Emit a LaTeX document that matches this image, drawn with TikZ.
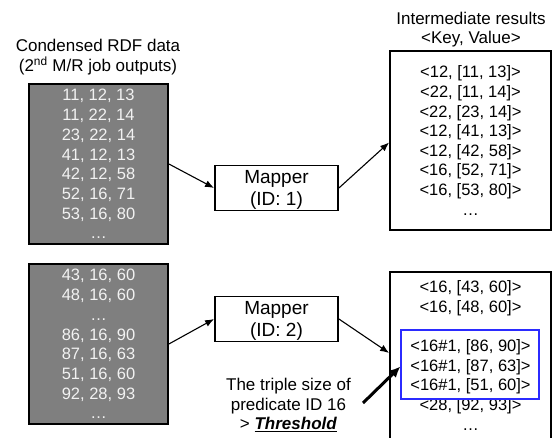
\documentclass[tikz,border=0pt]{standalone}
\usepackage{fontspec}
\setmainfont{Liberation Sans}
\usetikzlibrary{arrows.meta}
\definecolor{panelgray}{HTML}{7F7F7F}
\definecolor{rowlight}{HTML}{F2F2F2}
\definecolor{hotblue}{HTML}{2B2BFF}
\newcommand\rowsize{\fontsize{16.5}{19.6}\selectfont}
\newcommand\mapsize{\fontsize{19}{22}\selectfont}
\newcommand\titlesize{\fontsize{17}{19.6}\selectfont}

\begin{document}
\begin{tikzpicture}[x=1pt,y=-1pt,
  frame/.style={draw=black,line width=1.8pt,inner sep=0pt},
  datablock/.style={frame,fill=panelgray,minimum width=139pt,minimum height=160pt},
  mapbox/.style={frame,fill=white,minimum width=123pt,minimum height=45pt},
  outbox/.style={frame,minimum width=161pt},
  lightrow/.style={anchor=base,inner sep=0pt,text=rowlight,font=\rowsize},
  darkrow/.style={anchor=base,inner sep=0pt,font=\rowsize},
  titletext/.style={anchor=base,inner sep=0pt,font=\titlesize},
  maplabel/.style={anchor=base,inner sep=0pt,font=\mapsize},
  flow/.style={line width=1.1pt,-{Latex[length=9pt,width=7pt]}},
  bigflow/.style={line width=3pt,-{Latex[length=11pt,width=10pt]}},
  hotbox/.style={draw=hotblue,line width=1.2pt,fill=white,minimum width=138pt,minimum height=69pt,inner sep=0pt}]

\useasboundingbox[fill=white] (0,0) rectangle (552,438);

% ---- input data blocks ----
\node[titletext] (t1) at (98,52) {Condensed RDF data};
\node[titletext] (t2) at (98,71.5) {(2\textsuperscript{nd} M/R job outputs)};

\node[datablock] (src1) at (98.5,164) {};
\foreach \t [count=\i from 0] in {{11, 12, 13},{11, 22, 14},{23, 22, 14},{41, 12, 13},{42, 12, 58},{52, 16, 71},{53, 16, 80},{…}}
  \node[lightrow] (a-\i) at (98.5,101+\i*19.7) {\t};

\node[datablock] (src2) at (98.5,344) {};
\foreach \t [count=\i from 0] in {{43, 16, 60},{48, 16, 60},{…},{86, 16, 90},{87, 16, 63},{51, 16, 60},{92, 28, 93},{…}}
  \node[lightrow] (b-\i) at (98.5,281+\i*19.7) {\t};

% ---- mappers ----
\node[mapbox] (map1) at (276.5,188) {};
\node[maplabel] (m1a) at (276.5,184) {Mapper};
\node[maplabel] (m1b) at (276.5,206) {(ID: 1)};

\node[mapbox] (map2) at (276.5,319) {};
\node[maplabel] (m2a) at (276.5,315) {Mapper};
\node[maplabel] (m2b) at (276.5,337) {(ID: 2)};

% ---- intermediate key/value pairs ----
\node[titletext] (t3) at (471,25) {Intermediate results};
\node[titletext] (t4) at (471,44) {<Key, Value>};

\node[outbox,minimum height=179pt] (inter1) at (470.5,140.5) {};
\foreach \t [count=\i from 0] in {{<12, [11, 13]>},{<22, [11, 14]>},{<22, [23, 14]>},{<12, [41, 13]>},{<12, [42, 58]>},{<16, [52, 71]>},{<16, [53, 80]>},{…}}
  \node[darkrow] (c-\i) at (470.5,78+\i*19.6) {\t};

\node[outbox,minimum height=174pt] (inter2) at (470.5,359) {};
\node[darkrow] (d-0) at (470.5,293) {<16, [43, 60]>};
\node[darkrow] (d-1) at (470.5,312.6) {<16, [48, 60]>};
\node[darkrow] (d-2) at (470.5,332.2) {…};
\node[darkrow] (d-6) at (470.5,410.6) {<28, [92, 93]>};
\node[darkrow] (d-7) at (470.5,430.2) {…};

% split-off pairs of the oversized predicate
\node[hotbox] (hot) at (470,364.5) {};
\node[darkrow] (d-3) at (470.5,351.8) {<16\#1, [86, 90]>};
\node[darkrow] (d-4) at (470.5,371.4) {<16\#1, [87, 63]>};
\node[darkrow] (d-5) at (470.5,391) {<16\#1, [51, 60]>};

% ---- annotation ----
\node[titletext] (n1) at (288.5,391) {The triple size of};
\node[titletext] (n2) at (288.5,410.5) {predicate ID 16};
\node[titletext] (n3) at (288.5,430) {> \underline{\textbf{\textit{Threshold}}}};
\coordinate (tail) at (363,403);

% ---- connectors ----
\draw[flow] (src1.east) -- (map1.west);
\draw[flow] (map1.east) -- ([yshift=-2pt]inter1.west);
\draw[flow] (src2.east) -- (map2.west);
\draw[flow] (map2.east) -- ([yshift=6pt]inter2.west);
\draw[bigflow] (tail) -- ([yshift=-2pt]hot.west);
\end{tikzpicture}
\end{document}
